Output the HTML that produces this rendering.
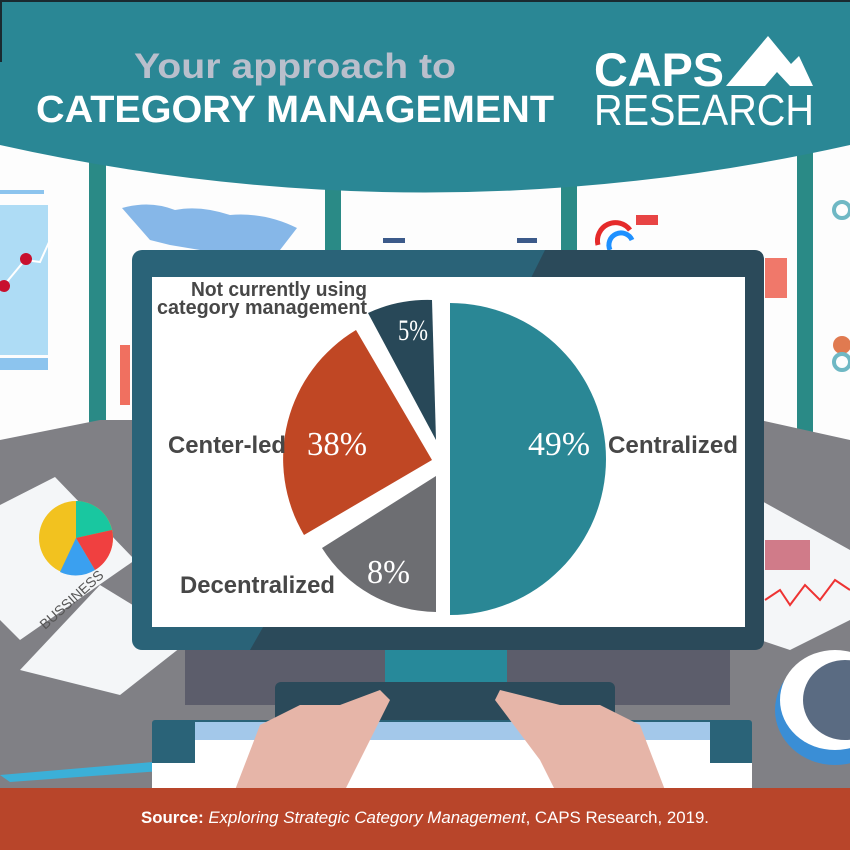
<!DOCTYPE html>
<html><head><meta charset="utf-8"><style>
html,body{margin:0;padding:0;background:#fff}
svg{display:block}
.s{font-family:"Liberation Sans",sans-serif}
.r{font-family:"Liberation Serif",serif}
</style></head><body>
<svg width="850" height="850" viewBox="0 0 850 850" xmlns="http://www.w3.org/2000/svg">
<rect width="850" height="850" fill="#fff"/>
<rect x="0" y="140" width="850" height="300" fill="#fdfdfd"/>
<g fill="#2a8a86">
<rect x="89" y="150" width="17" height="300"/>
<rect x="325" y="170" width="16" height="270"/>
<rect x="561" y="170" width="16" height="270"/>
<rect x="797" y="150" width="16" height="300"/>
</g>
<rect x="0" y="205" width="48" height="150" fill="#aedcf5"/>
<polyline points="0,290 25,260 40,262 50,240" fill="none" stroke="#fff" stroke-width="2"/>
<circle cx="4" cy="286" r="6" fill="#c8102e"/><circle cx="26" cy="259" r="6" fill="#c8102e"/>
<rect x="0" y="190" width="44" height="4" fill="#8cc4ee"/>
<rect x="0" y="358" width="48" height="12" fill="#8cc4ee"/>
<path d="M122,208 Q150,200 175,210 Q200,205 230,215 Q265,212 297,228 L280,250 L200,250 L170,245 L150,240 Z" fill="#86b7e8"/>
<rect x="120" y="345" width="10" height="60" fill="#f07060"/>
<rect x="383" y="238" width="22" height="5" fill="#3c5a8a"/><rect x="517" y="238" width="20" height="5" fill="#3c5a8a"/>
<path d="M598,245 A18,18 0 0 1 630,230" fill="none" stroke="#e52a2a" stroke-width="5"/>
<path d="M610,250 A12,12 0 0 1 632,240" fill="none" stroke="#1e90ff" stroke-width="5"/>
<rect x="636" y="215" width="22" height="10" fill="#e84444"/>
<rect x="765" y="258" width="22" height="40" fill="#f0786a"/>
<circle cx="842" cy="210" r="8" fill="none" stroke="#6fb8c4" stroke-width="4"/>
<circle cx="842" cy="345" r="9" fill="#e07a50"/><circle cx="842" cy="362" r="8" fill="none" stroke="#6fb8c4" stroke-width="4"/>
<path d="M0,0 H850 V145 Q425,240 0,145 Z" fill="#2a8795"/>
<rect x="0" y="0" width="850" height="2" fill="#1a2a30"/>
<rect x="0" y="0" width="2" height="62" fill="#1a2a30"/>
<text class="s" x="295" y="78" font-size="35" font-weight="bold" fill="#b9bfcc" text-anchor="middle" textLength="322" lengthAdjust="spacingAndGlyphs">Your approach to</text>
<text class="s" x="36" y="122" font-size="38" font-weight="bold" fill="#fff" textLength="518" lengthAdjust="spacingAndGlyphs">CATEGORY MANAGEMENT</text>
<text class="s" x="594" y="86" font-size="47" font-weight="bold" fill="#fff" textLength="130" lengthAdjust="spacingAndGlyphs">CAPS</text>
<path d="M726,86 L768,36 L791,64 L799,56 L813,86 L790,86 L777,72 L765,86 Z" fill="#fff"/>
<text class="s" x="594" y="125" font-size="44" fill="#fff" textLength="220" lengthAdjust="spacingAndGlyphs">RESEARCH</text>
<path d="M0,440 L100,420 L330,420 L760,420 L850,440 V790 H0 Z" fill="#808085"/>
<path d="M0,505 L55,477 L135,560 L20,640 L0,620 Z" fill="#f4f6f8"/>
<circle cx="76" cy="538" r="37" fill="#f2c21f"/>
<path d="M76,538 L76,501 A37,37 0 0 1 112,530 Z" fill="#19c7a0"/>
<path d="M76,538 L112,530 A37,37 0 0 1 95,570 Z" fill="#f04040"/>
<path d="M76,538 L95,570 A37,37 0 0 1 60,572 Z" fill="#3aa0f0"/>
<path d="M20,670 L100,585 L190,640 L120,695 Z" fill="#f4f6f8"/>
<text class="s" x="45" y="630" font-size="14" fill="#555" transform="rotate(-42 45 630)">BUSSINESS</text>
<path d="M760,500 L850,550 V620 L790,650 L760,640 Z" fill="#f4f6f8"/>
<polyline points="765,600 780,590 790,605 805,585 820,600 835,580 850,590" fill="none" stroke="#e33" stroke-width="2"/>
<rect x="765" y="540" width="45" height="30" fill="#c0475a" opacity="0.7"/>
<ellipse cx="835" cy="710" rx="60" ry="55" fill="#3a8ed6"/>
<ellipse cx="835" cy="700" rx="55" ry="50" fill="#fff"/>
<ellipse cx="845" cy="700" rx="42" ry="40" fill="#5a6b82"/>
<path d="M0,775 L200,758 L202,768 L10,782 Z" fill="#3bb0d8"/>
<rect x="185" y="650" width="545" height="55" fill="#5c5d6b"/>
<rect x="385" y="640" width="122" height="80" fill="#27899a"/>
<rect x="132" y="250" width="632" height="400" rx="10" fill="#2a6378"/>
<path d="M545,250 H754 Q764,250 764,260 V640 Q764,650 754,650 H250 L270,615 L520,300 Z" fill="#2b4a5a"/>
<rect x="152" y="277" width="593" height="350" fill="#fff"/>
<rect x="275" y="682" width="340" height="45" rx="6" fill="#2b4a5a"/>
<rect x="152" y="720" width="600" height="60" rx="3" fill="#2a6378"/>
<rect x="195" y="722" width="515" height="18" fill="#a3c8ea"/>
<rect x="195" y="740" width="515" height="23" fill="#fff"/>
<rect x="152" y="763" width="600" height="27" fill="#fff"/>
<path d="M235,790 L260,725 L300,705 L340,705 L380,690 L390,700 L360,760 L345,790 Z" fill="#e6b5a8"/>
<path d="M665,790 L640,725 L600,705 L560,705 L500,690 L495,700 L540,760 L555,790 Z" fill="#e6b5a8"/>
<rect x="0" y="788" width="850" height="62" fill="#b8452a"/>
<text class="s" x="425" y="823" font-size="17" fill="#fff" text-anchor="middle" textLength="568" lengthAdjust="spacingAndGlyphs"><tspan font-weight="bold">Source: </tspan><tspan font-style="italic">Exploring Strategic Category Management</tspan>, CAPS Research, 2019.</text>
<path d="M450,303 A156,156 0 0 1 450,615 Z" fill="#2a8795"/>
<path d="M436,440 L368,313 A142,142 0 0 1 432,300 Z" fill="#284858"/>
<path d="M432,460 L356,330 A150,150 0 0 0 304,535 Z" fill="#c04724"/>
<path d="M436,476 L322,548 A136,136 0 0 0 436,612 Z" fill="#6d6e72"/>
<g fill="#fff">
<text class="r" x="398" y="340" font-size="30" textLength="30" lengthAdjust="spacingAndGlyphs">5%</text>
<text class="r" x="307" y="455" font-size="34" textLength="60" lengthAdjust="spacingAndGlyphs">38%</text>
<text class="r" x="528" y="455" font-size="34" textLength="62" lengthAdjust="spacingAndGlyphs">49%</text>
<text class="r" x="367" y="583" font-size="34" textLength="43" lengthAdjust="spacingAndGlyphs">8%</text>
</g>
<g font-weight="bold" fill="#474747">
<text class="s" x="367" y="296" font-size="20" text-anchor="end" textLength="176" lengthAdjust="spacingAndGlyphs">Not currently using</text>
<text class="s" x="367" y="314" font-size="20" text-anchor="end" textLength="210" lengthAdjust="spacingAndGlyphs">category management</text>
<text class="s" x="168" y="453" font-size="24" textLength="118" lengthAdjust="spacingAndGlyphs">Center-led</text>
<text class="s" x="608" y="453" font-size="24" textLength="130" lengthAdjust="spacingAndGlyphs">Centralized</text>
<text class="s" x="180" y="593" font-size="24" textLength="155" lengthAdjust="spacingAndGlyphs">Decentralized</text>
</g>
</svg>
</body></html>
